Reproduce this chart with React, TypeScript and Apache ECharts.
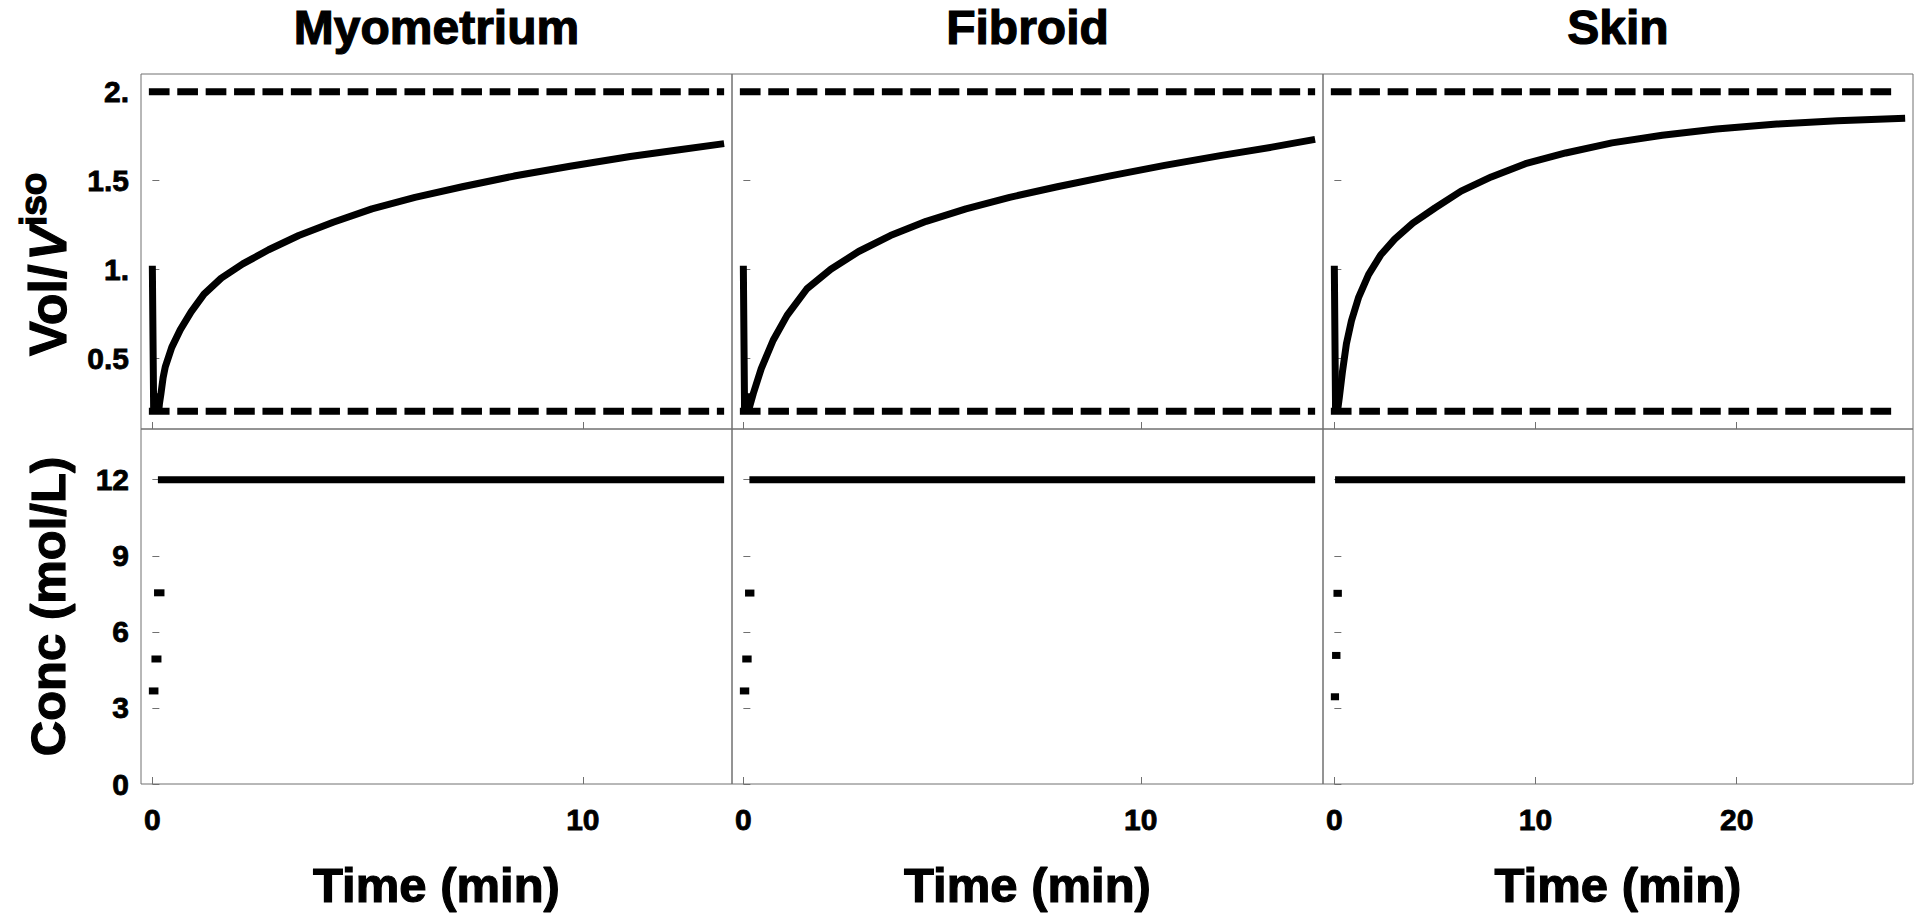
import React, { useEffect, useRef } from 'react';
import * as echarts from 'echarts';

const FONT = "'Liberation Sans', Arial, Helvetica, sans-serif";

// ---------------- data ----------------
const panelTitles = ['Myometrium', 'Fibroid', 'Skin'];
const timeEnd = [13.2, 14.3, 28.2];
const timeTicks = [[0, 10], [0, 10], [0, 10, 20]];

const volTicks = [0.5, 1, 1.5, 2];
const volTickLabels = ['0.5', '1.', '1.5', '2.'];
const concTicks = [0, 3, 6, 9, 12];
const concTickLabels = ['0', '3', '6', '9', '12'];
const volLimits = [0.2, 2.0];

// Myometrium
const myoDropT = [0, 0.03, 0.08, 0.1, 0.15];
const myoDropV = [1.0, 0.21, 0.3, 0.22, 0.22];
const myoT = [0.15, 0.2, 0.25, 0.3, 0.45, 0.65, 0.9, 1.2, 1.6, 2.1, 2.7, 3.4, 4.2, 5.1, 6.1, 7.2, 8.4, 9.7, 11.1, 12.2, 13.2];
const myoV = [0.22, 0.3, 0.39, 0.45, 0.56, 0.66, 0.76, 0.86, 0.95, 1.03, 1.11, 1.19, 1.265, 1.34, 1.405, 1.465, 1.525, 1.58, 1.635, 1.672, 1.705];
const myoConcStart = [0, 0.06, 0.12, 0.21];
const myoConcEnd = [0.06, 0.13, 0.2, 13.2];
const myoConc = [3.67, 4.93, 7.54, 12];

// Fibroid
const fibDropT = [0, 0.03, 0.08, 0.1, 0.15];
const fibDropV = [1.0, 0.21, 0.3, 0.22, 0.22];
const fibT = [0.15, 0.25, 0.45, 0.75, 1.1, 1.6, 2.2, 2.9, 3.7, 4.6, 5.6, 6.7, 7.9, 9.2, 10.6, 12.0, 13.3, 14.3];
const fibV = [0.22, 0.3, 0.44, 0.6, 0.74, 0.89, 1.0, 1.1, 1.19, 1.27, 1.34, 1.405, 1.465, 1.525, 1.585, 1.64, 1.688, 1.728];
const fibConcStart = [0, 0.06, 0.13, 0.24];
const fibConcEnd = [0.06, 0.12, 0.19, 14.3];
const fibConc = [3.67, 4.93, 7.53, 12];

// Skin
const skinDropT = [0, 0.06, 0.12, 0.15, 0.18];
const skinDropV = [1.0, 0.21, 0.3, 0.22, 0.22];
const skinT = [0.18, 0.25, 0.4, 0.6, 0.85, 1.2, 1.7, 2.3, 3.0, 3.9, 5.0, 6.3, 7.8, 9.5, 11.5, 13.8, 16.3, 19.0, 22.0, 25.0, 28.2];
const skinV = [0.22, 0.28, 0.42, 0.58, 0.71, 0.84, 0.97, 1.08, 1.17, 1.26, 1.345, 1.44, 1.52, 1.595, 1.655, 1.712, 1.755, 1.79, 1.818, 1.837, 1.85];
const skinConcStart = [0, 0.06, 0.13, 0.21];
const skinConcEnd = [0.06, 0.13, 0.2, 28.2];
const skinConc = [3.44, 5.07, 7.52, 12];

const panels = [
  { dropT: myoDropT, dropV: myoDropV, t: myoT, v: myoV, cs: myoConcStart, ce: myoConcEnd, c: myoConc },
  { dropT: fibDropT, dropV: fibDropV, t: fibT, v: fibV, cs: fibConcStart, ce: fibConcEnd, c: fibConc },
  { dropT: skinDropT, dropV: skinDropV, t: skinT, v: skinV, cs: skinConcStart, ce: skinConcEnd, c: skinConc },
];

// ---------------- layout ----------------
const LEFTS = [141, 732, 1323];
const WIDTHS = [591, 591, 590];
const TOP_Y = 74;
const MID_Y = 429;
const PANEL_H = 355;
const FRAME = '#707070';
const TICK_FS = 30;

function tickText(text: string, x: number, y: number, align: string) {
  return {
    type: 'text',
    x,
    y,
    silent: true,
    style: {
      text,
      fontSize: TICK_FS,
      fontWeight: 'bold',
      fontFamily: FONT,
      fill: '#000',
      stroke: '#000',
      lineWidth: 0.8,
      align,
      verticalAlign: 'middle',
    },
  };
}

function bigText(text: string, x: number, y: number, size: number, extra: any = {}) {
  return {
    type: 'text',
    x,
    y,
    silent: true,
    rotation: extra.rotation || 0,
    style: {
      text,
      fontSize: size,
      lineHeight: size,
      fontWeight: 'bold',
      fontStyle: extra.fontStyle || 'normal',
      fontFamily: FONT,
      fill: '#000',
      stroke: '#000',
      lineWidth: 1.2,
      align: extra.align || 'center',
      verticalAlign: 'middle',
    },
  };
}

function buildOption() {
  const grid: any[] = [];
  const xAxis: any[] = [];
  const yAxis: any[] = [];
  const series: any[] = [];

  panels.forEach((p, i) => {
    const tMax = timeEnd[i];
    const xmin = -0.02 * tMax;
    const xmax = 1.02 * tMax;
    [0, 1].forEach((row) => {
      const gi = i * 2 + row;
      const isTop = row === 0;
      grid.push({
        left: LEFTS[i],
        top: isTop ? TOP_Y : MID_Y,
        width: WIDTHS[i],
        height: PANEL_H,
        show: true,
        borderColor: FRAME,
        borderWidth: 1,
        backgroundColor: 'transparent',
      });
      xAxis.push({
        type: 'value',
        gridIndex: gi,
        min: xmin,
        max: xmax,
        axisLine: { show: false },
        splitLine: { show: false },
        axisTick: {
          show: true,
          inside: true,
          length: 7,
          lineStyle: { color: FRAME, width: 1 },
          customValues: timeTicks[i],
        },
        axisLabel: { show: false, customValues: timeTicks[i] },
      });
      yAxis.push({
        type: 'value',
        gridIndex: gi,
        min: isTop ? 0.1 : 0,
        max: isTop ? 2.1 : 14,
        axisLine: { show: false },
        splitLine: { show: false },
        axisTick: {
          show: true,
          inside: true,
          length: 7,
          lineStyle: { color: FRAME, width: 1 },
          customValues: isTop ? volTicks : concTicks,
        },
        axisLabel: { show: false, customValues: isTop ? volTicks : concTicks },
      });
    });

    const topIdx = i * 2;
    const botIdx = i * 2 + 1;
    const base = {
      type: 'line',
      symbol: 'none',
      showSymbol: false,
      silent: true,
      animation: false,
    };
    volLimits.forEach((lv) => {
      series.push({
        ...base,
        xAxisIndex: topIdx,
        yAxisIndex: topIdx,
        data: [[0, lv], [tMax, lv]],
        lineStyle: { color: '#000', width: 7, type: [13.7, 14.7], cap: 'square' },
        z: 2,
      });
    });
    series.push({
      ...base,
      xAxisIndex: topIdx,
      yAxisIndex: topIdx,
      data: p.dropT.map((t, k) => [t, p.dropV[k]]),
      lineStyle: { color: '#000', width: 7, cap: 'square', join: 'bevel' },
      z: 3,
    });
    series.push({
      ...base,
      xAxisIndex: topIdx,
      yAxisIndex: topIdx,
      smooth: false,
      data: p.t.map((t, k) => [t, p.v[k]]),
      lineStyle: { color: '#000', width: 7, cap: 'square', join: 'round' },
      z: 3,
    });
    p.c.forEach((cv, k) => {
      series.push({
        ...base,
        xAxisIndex: botIdx,
        yAxisIndex: botIdx,
        data: [[p.cs[k], cv], [p.ce[k], cv]],
        lineStyle: { color: '#000', width: 7, cap: 'square' },
        z: 3,
      });
    });

    // x tick labels (bottom row), placed through the axis scale
    series.push({
      type: 'custom',
      coordinateSystem: 'cartesian2d',
      xAxisIndex: botIdx,
      yAxisIndex: botIdx,
      silent: true,
      clip: false,
      z: 5,
      data: timeTicks[i].map((v) => [v, 0]),
      renderItem: (_params: any, api: any) => {
        const pt = api.coord([api.value(0), 0]);
        return tickText(String(api.value(0)), pt[0], pt[1] + 35, 'center');
      },
    });

    if (i === 0) {
      series.push({
        type: 'custom',
        coordinateSystem: 'cartesian2d',
        xAxisIndex: topIdx,
        yAxisIndex: topIdx,
        silent: true,
        clip: false,
        z: 5,
        data: volTicks.map((v) => [xmin, v]),
        renderItem: (params: any, api: any) => {
          const pt = api.coord([api.value(0), api.value(1)]);
          return tickText(volTickLabels[params.dataIndex], pt[0] - 12, pt[1], 'right');
        },
      });
      series.push({
        type: 'custom',
        coordinateSystem: 'cartesian2d',
        xAxisIndex: botIdx,
        yAxisIndex: botIdx,
        silent: true,
        clip: false,
        z: 5,
        data: concTicks.map((v) => [xmin, v]),
        renderItem: (params: any, api: any) => {
          const pt = api.coord([api.value(0), api.value(1)]);
          return tickText(concTickLabels[params.dataIndex], pt[0] - 12, pt[1], 'right');
        },
      });
    }
  });

  const graphic: any[] = [];
  panelTitles.forEach((title, i) => {
    const cx = LEFTS[i] + WIDTHS[i] / 2;
    graphic.push(bigText(title, cx, 27, 48));
    graphic.push(bigText('Time (min)', cx, 885, 49));
  });
  graphic.push(bigText('Vol/', 48, 356, 52, { rotation: Math.PI / 2, align: 'left' }));
  graphic.push(bigText('V', 48, 356 - 52 * 1.834, 52, { rotation: Math.PI / 2, align: 'left', fontStyle: 'italic' }));
  graphic.push(bigText('iso', 33, 356 - 52 * 2.5, 37, { rotation: Math.PI / 2, align: 'left' }));
  graphic.push(bigText('Conc (mol/L)', 47.5, 606.5, 49, { rotation: Math.PI / 2 }));

  return {
    animation: false,
    backgroundColor: '#ffffff',
    grid,
    xAxis,
    yAxis,
    series,
    graphic,
  };
}

export default function App() {
  const ref = useRef<HTMLDivElement>(null);
  useEffect(() => {
    document.body.style.margin = '0';
    if (!ref.current) return;
    const chart = echarts.init(ref.current, undefined, { renderer: 'svg' });
    chart.setOption(buildOption() as any);
    return () => {
      chart.dispose();
    };
  }, []);
  return (
    <div
      ref={ref}
      style={{ position: 'fixed', left: 0, top: 0, width: '1920px', height: '917px', background: '#fff' }}
    />
  );
}
